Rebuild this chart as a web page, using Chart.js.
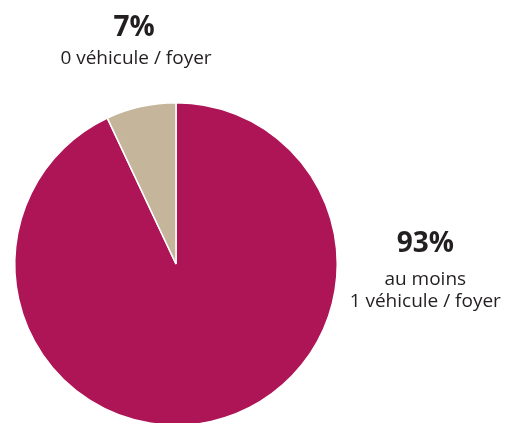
<!DOCTYPE html>
<html>
<head>
<meta charset="utf-8">
<script src="https://cdn.jsdelivr.net/npm/chart.js@4"></script>
<style>
  html, body { margin: 0; padding: 0; background: #fff; overflow: hidden; }
  #wrap { width: 513px; height: 423px; overflow: hidden; }
</style>
</head>
<body>
<div id="wrap"><canvas id="myChart" width="513" height="440"></canvas></div>
<script>
const categories = ["au moins 1 véhicule / foyer", "0 véhicule / foyer"];
const values = [93, 7];
const colors = ["#AE1557", "#C4B59B"];
const bigLabels = ["93%", "7%"];
const smallLabels = [["au moins", "1 véhicule / foyer"], ["0 véhicule / foyer"]];

const labelPlugin = {
    id: 'sideLabels',
    afterDraw(chart) {
        let ctx = chart.ctx;
        let arc = chart.getDatasetMeta(0).data[0];
        let cx = arc.x, cy = arc.y, r = arc.outerRadius;
        ctx.save();
        ctx.fillStyle = '#231f20';
        ctx.textAlign = 'center';
        ctx.textBaseline = 'alphabetic';
        // 93% label on the right
        let x1 = cx + r + 88, y1 = cy - 12;
        ctx.font = 'bold 28px "Open Sans", sans-serif';
        ctx.fillText(bigLabels[0], x1, y1);
        ctx.font = '19px "Open Sans", sans-serif';
        ctx.fillText(smallLabels[0][0], x1, y1 + 33);
        ctx.fillText(smallLabels[0][1], x1, y1 + 55);
        // 7% label on top
        let x2 = cx - 42, y2 = cy - r - 67;
        ctx.font = 'bold 28px "Open Sans", sans-serif';
        ctx.fillText(bigLabels[1], x2, y2);
        ctx.font = '19px "Open Sans", sans-serif';
        ctx.fillText(smallLabels[1][0], x2 + 2, y2 + 28);
        ctx.restore();
    }
};

let ctx = document.getElementById('myChart').getContext('2d');
new Chart(ctx, {
    type: 'pie',
    data: {
        labels: categories,
        datasets: [{
            data: values,
            backgroundColor: colors,
            borderColor: '#fff',
            borderWidth: 1.5
        }]
    },
    options: {
        responsive: false,
        animation: false,
        layout: { padding: { top: 102, left: 14, right: 175, bottom: 14 } },
        plugins: { legend: { display: false }, tooltip: { enabled: false } }
    },
    plugins: [labelPlugin]
});
</script>
</body>
</html>
